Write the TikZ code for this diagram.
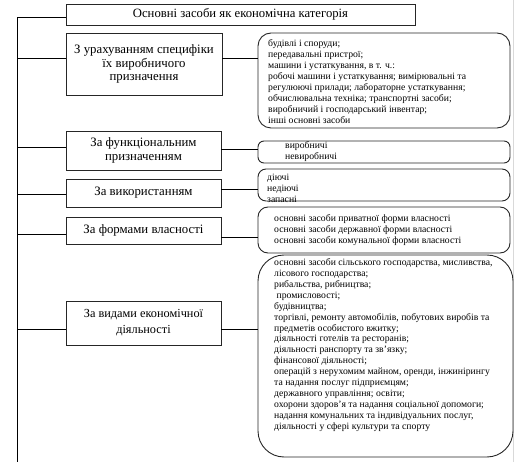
\documentclass[tikz,border=0pt]{standalone}
\usepackage{fontspec}
\setmainfont{Liberation Serif}
\begin{document}
\begin{tikzpicture}[x=1pt,y=-1pt,
  catbox/.style={draw=black!85, line width=0.9pt, rectangle, inner sep=0pt, align=center,
    font=\fontsize{12.8}{13.5}\selectfont},
  listbox/.style={draw=black!85, line width=0.9pt, rectangle, inner sep=0pt},
  listtext/.style={anchor=west, inner sep=0pt, align=left, font=\fontsize{9.7}{11}\selectfont},
  conn/.style={draw=black, line width=0.9pt}]
\useasboundingbox (0,0) rectangle (517,462);
\draw[gray!30, line width=0.8pt] (513,0) -- (513,462);
% title
\node[catbox, minimum width=349pt, minimum height=21pt, font=\fontsize{12.7}{13}\selectfont] (title) at (240.5,14.5) {Основні засоби як економічна категорія};
% category boxes
\node[catbox, minimum width=156pt, minimum height=62pt] (b1) at (144,64) {З урахуванням специфіки\\їх виробничого\\призначення};
\node[catbox, minimum width=155pt, minimum height=39pt] (b2) at (143.5,150.5) {За функціональним\\призначенням};
\node[catbox, minimum width=155pt, minimum height=28pt] (b3) at (143.5,193) {За використанням};
\node[catbox, minimum width=155pt, minimum height=27pt] (b4) at (143.5,230.5) {За формами власності};
\node[catbox, minimum width=155pt, minimum height=44pt, font=\fontsize{12.3}{16}\selectfont] (b5) at (143.5,323) {За видами економічної\\діяльності};
% list boxes
\node[listbox, rounded corners=13pt, minimum width=252pt, minimum height=95pt] (r1) at (384,80.5) {};
\node[listbox, rounded corners=6pt, minimum width=252pt, minimum height=22pt] (r2) at (384,152) {};
\node[listbox, rounded corners=8pt, minimum width=252pt, minimum height=32pt] (r3) at (384,185) {};
\node[listbox, rounded corners=10pt, minimum width=252pt, minimum height=46pt] (r4) at (384,230) {};
\node[listbox, rounded corners=26pt, minimum width=255pt, minimum height=202pt] (r5) at (385.5,356) {};
% list texts
\node[listtext] (t1) at (268,82) {будівлі і споруди;\\передавальні пристрої;\\машини і устаткування, в т. ч.:\\робочі машини і устаткування; вимірювальні та\\регулюючі прилади; лабораторне устаткування;\\обчислювальна техніка; транспортні засоби;\\виробничий і господарський інвентар;\\інші основні засоби};
\node[listtext] (t2) at (285,152) {виробничі\\невиробничі};
\node[listtext] (t3) at (267,188) {діючі\\недіючі\\запасні};
\node[listtext] (t4) at (274,230) {основні засоби приватної форми власності\\основні засоби державної форми власності\\основні засоби комунальної форми власності};
\node[listtext, font=\fontsize{9.7}{10.9}\selectfont] (t5) at (274,345) {основні засоби сільського господарства, мисливства,\\лісового господарства;\\рибальства, рибництва;\\\ промисловості;\\будівництва;\\торгівлі, ремонту автомобілів, побутових виробів та\\предметів особистого вжитку;\\діяльності готелів та ресторанів;\\діяльності ранспорту та зв’язку;\\фінансової діяльності;\\операцій з нерухомим майном, оренди, інжинірингу\\та надання послуг підприємцям;\\державного управління; освіти;\\охорони здоров’я та надання соціальної допомоги;\\надання комунальних та індивідуальних послуг,\\діяльності у сфері культури та спорту};
% spine
\coordinate (stop) at (17,17);
\coordinate (sbot) at (17,462);
\draw[conn] (title.west |- stop) -- (stop) -- (sbot);
% branches left
\draw[conn] (sbot |- 0,58) -- (b1.west |- 0,58);
\draw[conn] (sbot |- 0,147) -- (b2.west |- 0,147);
\draw[conn] (sbot |- 0,194) -- (b3.west |- 0,194);
\draw[conn] (sbot |- 0,234) -- (b4.west |- 0,234);
\draw[conn] (sbot |- 0,329) -- (b5.west |- 0,329);
% branches right
\draw[conn] (b1.east |- 0,58) -- (r1.west |- 0,58);
\draw[conn] (b2.east |- 0,149) -- (r2.west |- 0,149);
\draw[conn] (b3.east |- 0,189) -- (r3.west |- 0,189);
\draw[conn] (b4.east |- 0,237) -- (r4.west |- 0,237);
\draw[conn] (b5.east |- 0,329) -- (r5.west |- 0,329);
\end{tikzpicture}
\end{document}
